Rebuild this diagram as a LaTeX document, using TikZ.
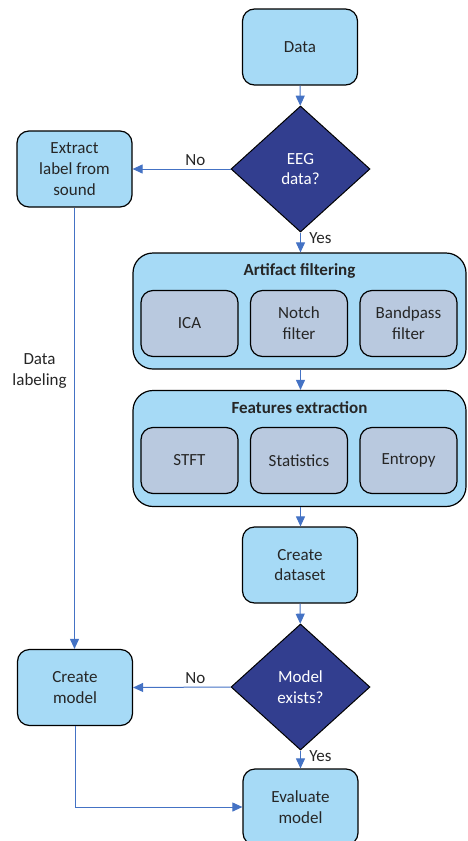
\documentclass[tikz,border=0pt]{standalone}
\usepackage{fontspec}
\setmainfont{Carlito}
\usetikzlibrary{shapes.geometric,arrows.meta}

\definecolor{boxblue}{RGB}{166,218,246}
\definecolor{subgrey}{RGB}{185,201,223}
\definecolor{navy}{RGB}{50,62,143}
\definecolor{linkblue}{RGB}{68,114,196}

\tikzset{
  txt/.style={font=\fontsize{17}{20.7}\selectfont, text=black!85, align=center},
  stepbox/.style={txt, draw=black, line width=1.2pt, rounded corners=12pt, fill=boxblue,
    minimum width=115pt, minimum height=76pt, inner sep=0pt},
  groupbox/.style={draw=black, line width=1.2pt, rounded corners=20pt, fill=boxblue,
    minimum width=333pt, minimum height=116pt, inner sep=0pt},
  subbox/.style={txt, draw=black, line width=1.2pt, rounded corners=12pt, fill=subgrey,
    minimum width=97pt, minimum height=66pt, inner sep=0pt},
  decision/.style={txt, diamond, draw=black, line width=1pt, fill=navy, text=white,
    minimum width=139pt, minimum height=126pt, inner sep=0pt},
  flow/.style={draw=linkblue, line width=1pt, -{Triangle[length=10pt,width=9pt]}},
}

\begin{document}
\begin{tikzpicture}[x=1pt,y=-1pt]
    %\draw[help lines] (0,0) grid (467,841);
       \useasboundingbox (0,0) rectangle (467,841);
       \node[stepbox] (data) at (300,47) {Data};
       \node[decision] (eeg) at (300.5,169) {EEG\\data?};
       \node[stepbox] (extract) at (74.5,169) {Extract\\label from\\sound};
       % processing groups
       \node[groupbox] (artifact) at (299.5,311) {};
       \node[txt, font=\fontsize{17}{20.7}\selectfont\bfseries] (artifacttitle) at (299.5,271) {Artifact filtering};
       \node[subbox] (ica) at (189.5,323.5) {ICA};
       \node[subbox] (notch) at (299,323.5) {Notch\\filter};
       \node[subbox] (bandpass) at (408.5,323.5) {Bandpass\\filter};
       \node[groupbox] (features) at (299.5,448.5) {};
       \node[txt, font=\fontsize{17}{20.7}\selectfont\bfseries] (featurestitle) at (299.5,408) {Features extraction};
       \node[subbox] (stft) at (189.5,460.5) {STFT};
       \node[subbox] (stats) at (299,460.5) {Statistics};
       \node[subbox] (entropy) at (408.5,460.5) {Entropy};
       \node[stepbox] (dataset) at (300,565) {Create\\dataset};
       \node[decision] (exists) at (300.5,687) {Model\\exists?};
       \node[stepbox] (cmodel) at (75,687.5) {Create\\model};
       \node[stepbox] (evaluate) at (300.5,807) {Evaluate\\model};
       % connectors
       \draw[flow] (data) -- (eeg);
       \draw[flow] (eeg.west) -- node[txt, above, pos=0.36] {No} (extract.east);
       \draw[flow] (eeg.south) -- node[txt, right, pos=0.3, xshift=5pt] {Yes} (artifact.north -| eeg.south);
       \draw[flow] (artifact.south -| eeg.south) -- (features.north -| eeg.south);
       \draw[flow] (features.south -| eeg.south) -- (dataset.north -| eeg.south);
       \draw[flow] (dataset) -- (exists);
       \draw[flow] (exists.west) -- node[txt, above, pos=0.36] {No} (cmodel.east);
       \draw[flow] (exists.south) -- node[txt, right, pos=0.3, xshift=5pt] {Yes} (evaluate.north -| exists.south);
       \draw[flow] (extract.south) -- node[txt, left, pos=0.37, xshift=-4pt] {Data\\labeling} (cmodel.north -| extract.south);
       \draw[flow] (cmodel.south) |- (evaluate.west);
\end{tikzpicture}
\end{document}
